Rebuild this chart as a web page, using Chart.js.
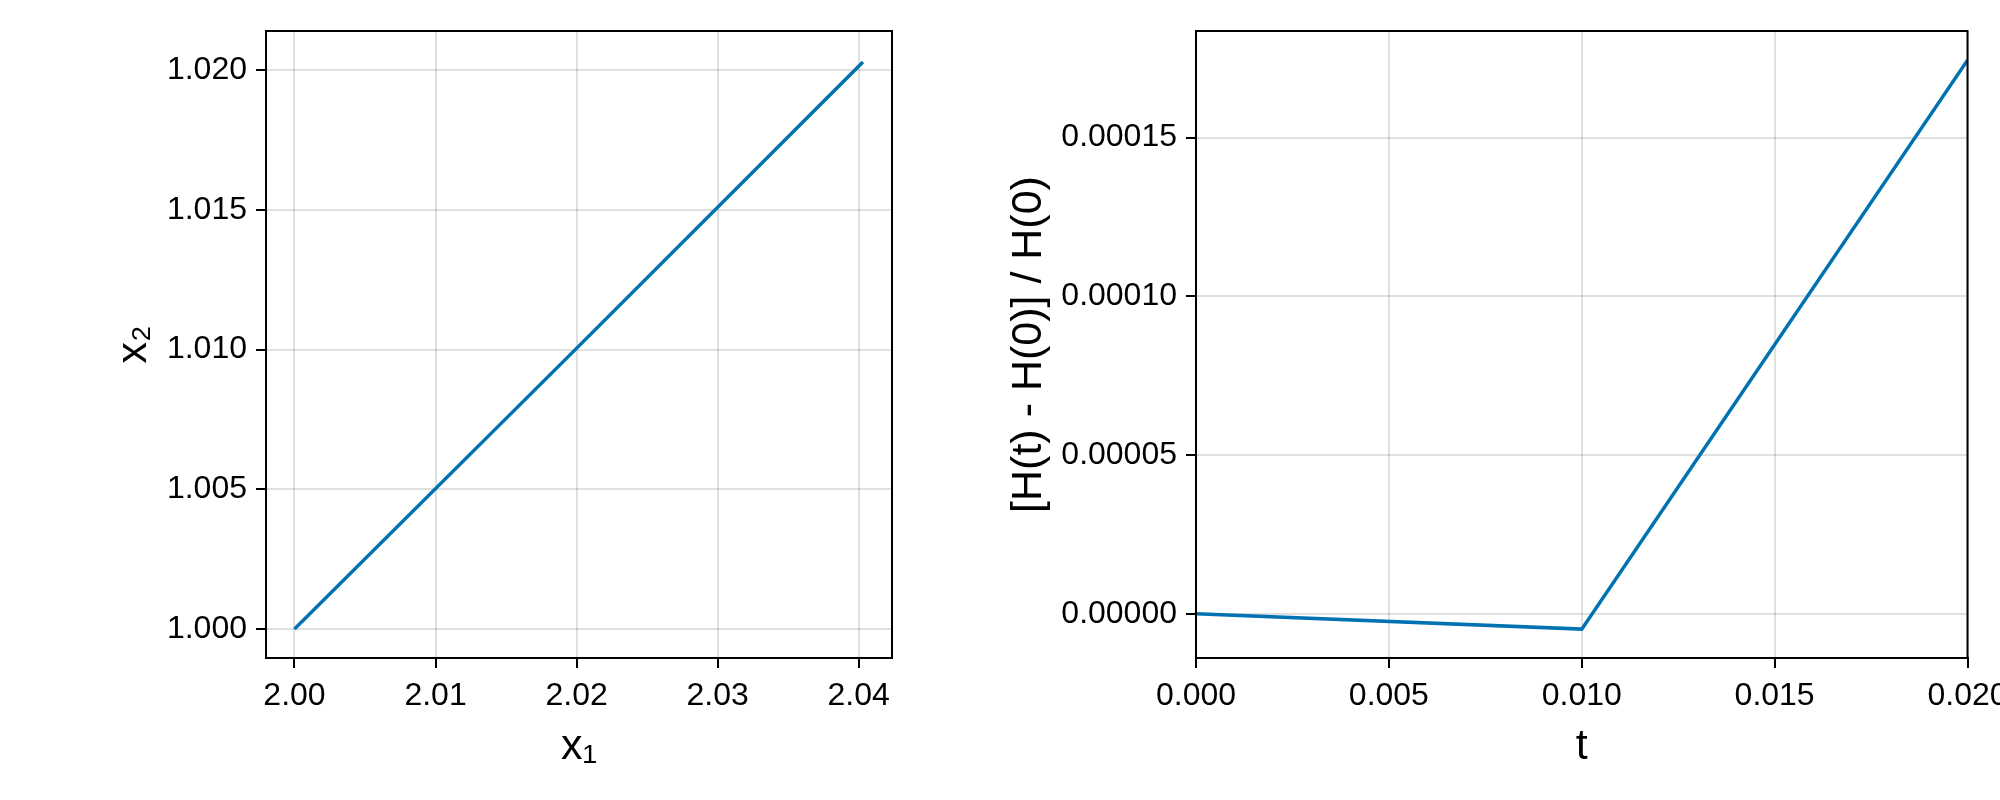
<!DOCTYPE html>
<html>
<head>
<meta charset="utf-8">
<script src="https://cdn.jsdelivr.net/npm/chart.js@4"></script>
<style>
  html, body { margin: 0; padding: 0; background: #fff; }
  .box { position: absolute; top: 0; width: 1000px; height: 800px; }
</style>
</head>
<body>
<div class="box" style="left:0"><canvas id="phase"></canvas></div>
<div class="box" style="left:1000px"><canvas id="energy"></canvas></div>
<script>
// phase space trajectory
const x1 = [2.0, 2.0201, 2.0403];
const x2 = [1.0, 1.0101, 1.0203];
const x1Ticks = [2.00, 2.01, 2.02, 2.03, 2.04];
const x2Ticks = [1.000, 1.005, 1.010, 1.015, 1.020];

// relative energy error
const t = [0, 0.01, 0.02];
const relErr = [0, -0.0000048, 0.0001744];
const tTicks = [0.000, 0.005, 0.010, 0.015, 0.020];
const errTicks = [0.00000, 0.00005, 0.00010, 0.00015];

const lineColor = '#0072b2';
const tickFont = { family: 'Liberation Sans', size: 32 };
const titleFont = { family: 'Liberation Sans', size: 43 };

// draw the full frame round the plot area
const frame = {
  id: 'frame',
  afterDraw(chart) {
    const a = chart.chartArea, ctx = chart.ctx;
    ctx.save();
    ctx.strokeStyle = '#000';
    ctx.lineWidth = 2;
    ctx.strokeRect(a.left, a.top, a.right - a.left, a.bottom - a.top);
    ctx.restore();
  }
};

function axis(ticks, digits, title, min, max, fitSize, horiz) {
  return {
    type: 'linear',
    min: min,
    max: max,
    afterBuildTicks: s => { s.ticks = ticks.map(v => ({ value: v })); },
    afterFit: s => {
      if (horiz) s.height = fitSize; else s.width = fitSize;
      s.paddingLeft = s.paddingRight = s.paddingTop = s.paddingBottom = 0;
    },
    grid: { color: 'rgba(0,0,0,0.12)', lineWidth: 2, tickColor: '#000', tickLength: 10, tickWidth: 2 },
    border: { display: true, color: '#000', width: 2 },
    ticks: {
      autoSkip: false, maxRotation: 0, padding: 9, color: '#000', font: tickFont,
      callback: v => Number(v).toFixed(digits)
    },
    title: { display: true, text: title, color: '#000', font: titleFont, padding: 0 }
  };
}

function makeChart(id, xs, ys, xAxis, yAxis, padding) {
  return new Chart(document.getElementById(id), {
    type: 'scatter',
    data: {
      datasets: [{
        data: xs.map((v, i) => ({ x: v, y: ys[i] })),
        showLine: true,
        borderColor: lineColor,
        borderWidth: 3.5,
        pointRadius: 0,
        fill: false
      }]
    },
    options: {
      responsive: true,
      maintainAspectRatio: false,
      animation: false,
      layout: { padding: padding },
      plugins: { legend: { display: false }, tooltip: { enabled: false } },
      scales: { x: xAxis, y: yAxis }
    },
    plugins: [frame]
  });
}

makeChart('phase', x1, x2,
  axis(x1Ticks, 2, 'x\u2081', 1.99798, 2.04236, 115, true),
  axis(x2Ticks, 3, 'x\u2082', 0.99896, 1.02141, 158, false),
  { left: 108, right: 108, top: 31, bottom: 27 });

makeChart('energy', t, relErr,
  axis(tTicks, 3, 't', 0, 0.02, 115, true),
  axis(errTicks, 5, '[H(t) - H(0)] / H(0)', -0.0000139, 0.0001836, 193, false),
  { left: 3, right: 32.5, top: 31, bottom: 27 });
</script>
</body>
</html>
